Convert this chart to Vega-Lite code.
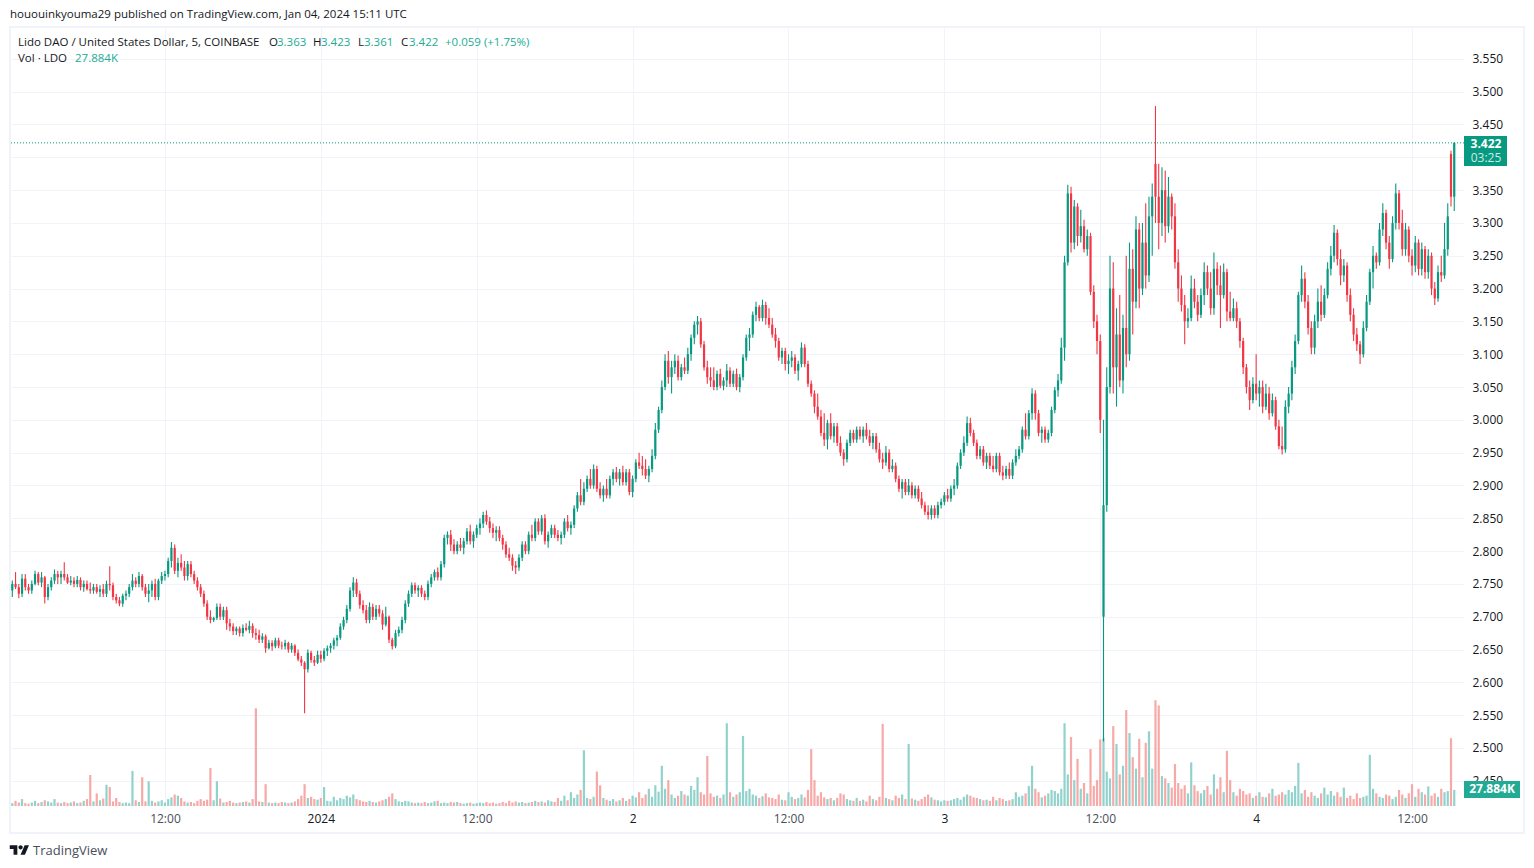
{
"$schema":"https://vega.github.io/schema/vega-lite/v6.json",
"width":1453,"height":778,
"autosize":{"type":"none"},
"padding":{"left":11,"top":28,"right":70,"bottom":62},
"background":"#ffffff",
"resolve":{"scale":{"y":"independent"}},
"config":{"view":{"stroke":null},"font":"Open Sans","text":{"font":"Open Sans"}},
"datasets":{"candles":[
{"t":0.25,"o":2.74,"h":2.755,"l":2.73,"c":2.75,"v":5},
{"t":0.5,"o":2.75,"h":2.768,"l":2.742,"c":2.745,"v":9},
{"t":0.75,"o":2.745,"h":2.75,"l":2.728,"c":2.735,"v":6},
{"t":1,"o":2.735,"h":2.765,"l":2.73,"c":2.758,"v":12},
{"t":1.25,"o":2.758,"h":2.765,"l":2.74,"c":2.745,"v":5},
{"t":1.5,"o":2.745,"h":2.75,"l":2.735,"c":2.74,"v":4},
{"t":1.75,"o":2.74,"h":2.755,"l":2.735,"c":2.75,"v":6},
{"t":2,"o":2.75,"h":2.77,"l":2.748,"c":2.765,"v":9},
{"t":2.25,"o":2.765,"h":2.768,"l":2.748,"c":2.752,"v":5},
{"t":2.5,"o":2.752,"h":2.768,"l":2.745,"c":2.76,"v":7},
{"t":2.75,"o":2.76,"h":2.762,"l":2.72,"c":2.73,"v":10},
{"t":3,"o":2.73,"h":2.75,"l":2.725,"c":2.745,"v":8},
{"t":3.25,"o":2.745,"h":2.76,"l":2.74,"c":2.755,"v":6},
{"t":3.5,"o":2.755,"h":2.772,"l":2.75,"c":2.765,"v":12},
{"t":3.75,"o":2.765,"h":2.77,"l":2.75,"c":2.76,"v":6},
{"t":4,"o":2.76,"h":2.77,"l":2.75,"c":2.765,"v":5},
{"t":4.25,"o":2.765,"h":2.783,"l":2.755,"c":2.76,"v":7},
{"t":4.5,"o":2.76,"h":2.765,"l":2.75,"c":2.752,"v":5},
{"t":4.75,"o":2.752,"h":2.762,"l":2.748,"c":2.755,"v":6},
{"t":5,"o":2.755,"h":2.76,"l":2.745,"c":2.75,"v":8},
{"t":5.25,"o":2.75,"h":2.762,"l":2.745,"c":2.756,"v":5},
{"t":5.5,"o":2.756,"h":2.76,"l":2.74,"c":2.745,"v":6},
{"t":5.75,"o":2.745,"h":2.755,"l":2.738,"c":2.75,"v":9},
{"t":6,"o":2.75,"h":2.755,"l":2.74,"c":2.742,"v":12},
{"t":6.25,"o":2.742,"h":2.752,"l":2.735,"c":2.74,"v":54},
{"t":6.5,"o":2.74,"h":2.75,"l":2.735,"c":2.745,"v":8},
{"t":6.75,"o":2.745,"h":2.75,"l":2.735,"c":2.738,"v":22},
{"t":7,"o":2.738,"h":2.748,"l":2.73,"c":2.742,"v":10},
{"t":7.25,"o":2.742,"h":2.75,"l":2.73,"c":2.735,"v":13},
{"t":7.5,"o":2.735,"h":2.755,"l":2.73,"c":2.75,"v":37},
{"t":7.75,"o":2.75,"h":2.777,"l":2.74,"c":2.748,"v":33},
{"t":8,"o":2.748,"h":2.752,"l":2.725,"c":2.73,"v":8},
{"t":8.25,"o":2.73,"h":2.735,"l":2.72,"c":2.725,"v":14},
{"t":8.5,"o":2.725,"h":2.73,"l":2.716,"c":2.72,"v":7},
{"t":8.75,"o":2.72,"h":2.735,"l":2.715,"c":2.732,"v":5},
{"t":9,"o":2.732,"h":2.74,"l":2.725,"c":2.735,"v":6},
{"t":9.25,"o":2.735,"h":2.75,"l":2.73,"c":2.745,"v":5},
{"t":9.5,"o":2.745,"h":2.765,"l":2.74,"c":2.755,"v":61},
{"t":9.75,"o":2.755,"h":2.76,"l":2.745,"c":2.75,"v":10},
{"t":10,"o":2.75,"h":2.768,"l":2.745,"c":2.762,"v":7},
{"t":10.25,"o":2.762,"h":2.765,"l":2.74,"c":2.745,"v":50},
{"t":10.5,"o":2.745,"h":2.75,"l":2.73,"c":2.735,"v":8},
{"t":10.75,"o":2.735,"h":2.75,"l":2.722,"c":2.74,"v":43},
{"t":11,"o":2.74,"h":2.755,"l":2.73,"c":2.75,"v":9},
{"t":11.25,"o":2.75,"h":2.758,"l":2.725,"c":2.73,"v":6},
{"t":11.5,"o":2.73,"h":2.758,"l":2.725,"c":2.755,"v":8},
{"t":11.75,"o":2.755,"h":2.768,"l":2.75,"c":2.762,"v":10},
{"t":12,"o":2.762,"h":2.77,"l":2.755,"c":2.765,"v":6},
{"t":12.25,"o":2.765,"h":2.79,"l":2.76,"c":2.785,"v":12},
{"t":12.5,"o":2.785,"h":2.814,"l":2.775,"c":2.805,"v":15},
{"t":12.75,"o":2.805,"h":2.81,"l":2.765,"c":2.77,"v":20},
{"t":13,"o":2.77,"h":2.79,"l":2.76,"c":2.782,"v":18},
{"t":13.25,"o":2.782,"h":2.795,"l":2.77,"c":2.775,"v":14},
{"t":13.5,"o":2.775,"h":2.785,"l":2.755,"c":2.762,"v":8},
{"t":13.75,"o":2.762,"h":2.785,"l":2.755,"c":2.78,"v":6},
{"t":14,"o":2.78,"h":2.785,"l":2.76,"c":2.765,"v":7},
{"t":14.25,"o":2.765,"h":2.77,"l":2.75,"c":2.755,"v":5},
{"t":14.5,"o":2.755,"h":2.76,"l":2.74,"c":2.745,"v":9},
{"t":14.75,"o":2.745,"h":2.75,"l":2.73,"c":2.735,"v":12},
{"t":15,"o":2.735,"h":2.74,"l":2.715,"c":2.72,"v":9},
{"t":15.25,"o":2.72,"h":2.725,"l":2.695,"c":2.7,"v":11},
{"t":15.5,"o":2.7,"h":2.71,"l":2.69,"c":2.695,"v":66},
{"t":15.75,"o":2.695,"h":2.7,"l":2.692,"c":2.698,"v":10},
{"t":16,"o":2.698,"h":2.72,"l":2.695,"c":2.715,"v":43},
{"t":16.25,"o":2.715,"h":2.72,"l":2.695,"c":2.7,"v":13},
{"t":16.5,"o":2.7,"h":2.715,"l":2.695,"c":2.71,"v":6},
{"t":16.75,"o":2.71,"h":2.715,"l":2.68,"c":2.69,"v":7},
{"t":17,"o":2.69,"h":2.697,"l":2.678,"c":2.685,"v":9},
{"t":17.25,"o":2.685,"h":2.69,"l":2.672,"c":2.678,"v":6},
{"t":17.5,"o":2.678,"h":2.685,"l":2.672,"c":2.682,"v":5},
{"t":17.75,"o":2.682,"h":2.685,"l":2.67,"c":2.675,"v":6},
{"t":18,"o":2.675,"h":2.688,"l":2.67,"c":2.683,"v":7},
{"t":18.25,"o":2.683,"h":2.69,"l":2.678,"c":2.68,"v":8},
{"t":18.5,"o":2.68,"h":2.694,"l":2.675,"c":2.686,"v":6},
{"t":18.75,"o":2.686,"h":2.69,"l":2.668,"c":2.675,"v":12},
{"t":19,"o":2.675,"h":2.682,"l":2.665,"c":2.672,"v":170},
{"t":19.25,"o":2.672,"h":2.68,"l":2.66,"c":2.665,"v":8},
{"t":19.5,"o":2.665,"h":2.675,"l":2.66,"c":2.67,"v":7},
{"t":19.75,"o":2.67,"h":2.673,"l":2.645,"c":2.652,"v":38},
{"t":20,"o":2.652,"h":2.665,"l":2.65,"c":2.66,"v":6},
{"t":20.25,"o":2.66,"h":2.664,"l":2.648,"c":2.655,"v":5},
{"t":20.5,"o":2.655,"h":2.668,"l":2.652,"c":2.664,"v":6},
{"t":20.75,"o":2.664,"h":2.668,"l":2.652,"c":2.656,"v":5},
{"t":21,"o":2.656,"h":2.662,"l":2.65,"c":2.655,"v":7},
{"t":21.25,"o":2.655,"h":2.665,"l":2.65,"c":2.66,"v":6},
{"t":21.5,"o":2.66,"h":2.662,"l":2.645,"c":2.65,"v":5},
{"t":21.75,"o":2.65,"h":2.66,"l":2.645,"c":2.656,"v":6},
{"t":22,"o":2.656,"h":2.658,"l":2.64,"c":2.645,"v":8},
{"t":22.25,"o":2.645,"h":2.65,"l":2.632,"c":2.635,"v":12},
{"t":22.5,"o":2.635,"h":2.64,"l":2.625,"c":2.63,"v":18},
{"t":22.75,"o":2.63,"h":2.632,"l":2.553,"c":2.62,"v":38},
{"t":23,"o":2.62,"h":2.65,"l":2.615,"c":2.645,"v":14},
{"t":23.25,"o":2.645,"h":2.648,"l":2.63,"c":2.634,"v":16},
{"t":23.5,"o":2.634,"h":2.64,"l":2.625,"c":2.63,"v":12},
{"t":23.75,"o":2.63,"h":2.648,"l":2.628,"c":2.642,"v":11},
{"t":24,"o":2.642,"h":2.648,"l":2.63,"c":2.636,"v":14},
{"t":24.25,"o":2.636,"h":2.652,"l":2.632,"c":2.648,"v":33},
{"t":24.5,"o":2.648,"h":2.656,"l":2.64,"c":2.652,"v":9},
{"t":24.75,"o":2.652,"h":2.66,"l":2.645,"c":2.656,"v":8},
{"t":25,"o":2.656,"h":2.668,"l":2.65,"c":2.664,"v":16},
{"t":25.25,"o":2.664,"h":2.672,"l":2.655,"c":2.668,"v":10},
{"t":25.5,"o":2.668,"h":2.69,"l":2.665,"c":2.685,"v":14},
{"t":25.75,"o":2.685,"h":2.7,"l":2.68,"c":2.695,"v":12},
{"t":26,"o":2.695,"h":2.718,"l":2.69,"c":2.712,"v":18},
{"t":26.25,"o":2.712,"h":2.745,"l":2.708,"c":2.74,"v":15},
{"t":26.5,"o":2.74,"h":2.76,"l":2.73,"c":2.752,"v":20},
{"t":26.75,"o":2.752,"h":2.758,"l":2.73,"c":2.735,"v":12},
{"t":27,"o":2.735,"h":2.74,"l":2.712,"c":2.718,"v":10},
{"t":27.25,"o":2.718,"h":2.725,"l":2.705,"c":2.71,"v":8},
{"t":27.5,"o":2.71,"h":2.718,"l":2.69,"c":2.695,"v":7},
{"t":27.75,"o":2.695,"h":2.722,"l":2.69,"c":2.715,"v":9},
{"t":28,"o":2.715,"h":2.72,"l":2.695,"c":2.7,"v":7},
{"t":28.25,"o":2.7,"h":2.718,"l":2.695,"c":2.712,"v":6},
{"t":28.5,"o":2.712,"h":2.718,"l":2.7,"c":2.705,"v":8},
{"t":28.75,"o":2.705,"h":2.71,"l":2.68,"c":2.688,"v":10},
{"t":29,"o":2.688,"h":2.715,"l":2.685,"c":2.7,"v":12},
{"t":29.25,"o":2.7,"h":2.702,"l":2.66,"c":2.665,"v":16},
{"t":29.5,"o":2.665,"h":2.668,"l":2.65,"c":2.655,"v":22},
{"t":29.75,"o":2.655,"h":2.68,"l":2.652,"c":2.675,"v":12},
{"t":30,"o":2.675,"h":2.685,"l":2.67,"c":2.68,"v":8},
{"t":30.25,"o":2.68,"h":2.7,"l":2.675,"c":2.695,"v":7},
{"t":30.5,"o":2.695,"h":2.725,"l":2.69,"c":2.72,"v":9},
{"t":30.75,"o":2.72,"h":2.74,"l":2.715,"c":2.735,"v":8},
{"t":31,"o":2.735,"h":2.752,"l":2.73,"c":2.748,"v":6},
{"t":31.25,"o":2.748,"h":2.752,"l":2.735,"c":2.74,"v":5},
{"t":31.5,"o":2.74,"h":2.748,"l":2.73,"c":2.744,"v":6},
{"t":31.75,"o":2.744,"h":2.748,"l":2.73,"c":2.735,"v":5},
{"t":32,"o":2.735,"h":2.74,"l":2.725,"c":2.73,"v":7},
{"t":32.25,"o":2.73,"h":2.755,"l":2.725,"c":2.75,"v":5},
{"t":32.5,"o":2.75,"h":2.765,"l":2.745,"c":2.76,"v":6},
{"t":32.75,"o":2.76,"h":2.772,"l":2.755,"c":2.768,"v":8},
{"t":33,"o":2.768,"h":2.775,"l":2.755,"c":2.76,"v":9},
{"t":33.25,"o":2.76,"h":2.785,"l":2.755,"c":2.78,"v":5},
{"t":33.5,"o":2.78,"h":2.825,"l":2.775,"c":2.82,"v":6},
{"t":33.75,"o":2.82,"h":2.83,"l":2.81,"c":2.825,"v":5},
{"t":34,"o":2.825,"h":2.832,"l":2.8,"c":2.81,"v":7},
{"t":34.25,"o":2.81,"h":2.818,"l":2.795,"c":2.8,"v":6},
{"t":34.5,"o":2.8,"h":2.815,"l":2.795,"c":2.81,"v":7},
{"t":34.75,"o":2.81,"h":2.82,"l":2.8,"c":2.805,"v":5},
{"t":35,"o":2.805,"h":2.82,"l":2.795,"c":2.815,"v":4},
{"t":35.25,"o":2.815,"h":2.835,"l":2.81,"c":2.83,"v":5},
{"t":35.5,"o":2.83,"h":2.84,"l":2.81,"c":2.815,"v":6},
{"t":35.75,"o":2.815,"h":2.83,"l":2.805,"c":2.825,"v":4},
{"t":36,"o":2.825,"h":2.84,"l":2.82,"c":2.835,"v":5},
{"t":36.25,"o":2.835,"h":2.85,"l":2.825,"c":2.842,"v":6},
{"t":36.5,"o":2.842,"h":2.86,"l":2.835,"c":2.855,"v":5},
{"t":36.75,"o":2.855,"h":2.862,"l":2.84,"c":2.845,"v":7},
{"t":37,"o":2.845,"h":2.852,"l":2.828,"c":2.835,"v":5},
{"t":37.25,"o":2.835,"h":2.842,"l":2.82,"c":2.828,"v":6},
{"t":37.5,"o":2.828,"h":2.838,"l":2.815,"c":2.832,"v":4},
{"t":37.75,"o":2.832,"h":2.838,"l":2.815,"c":2.82,"v":5},
{"t":38,"o":2.82,"h":2.825,"l":2.802,"c":2.81,"v":7},
{"t":38.25,"o":2.81,"h":2.815,"l":2.79,"c":2.795,"v":5},
{"t":38.5,"o":2.795,"h":2.805,"l":2.785,"c":2.79,"v":9},
{"t":38.75,"o":2.79,"h":2.795,"l":2.77,"c":2.778,"v":6},
{"t":39,"o":2.778,"h":2.785,"l":2.765,"c":2.775,"v":8},
{"t":39.25,"o":2.775,"h":2.795,"l":2.77,"c":2.79,"v":6},
{"t":39.5,"o":2.79,"h":2.815,"l":2.785,"c":2.81,"v":7},
{"t":39.75,"o":2.81,"h":2.815,"l":2.795,"c":2.8,"v":5},
{"t":40,"o":2.8,"h":2.83,"l":2.795,"c":2.825,"v":6},
{"t":40.25,"o":2.825,"h":2.84,"l":2.815,"c":2.82,"v":7},
{"t":40.5,"o":2.82,"h":2.85,"l":2.815,"c":2.845,"v":9},
{"t":40.75,"o":2.845,"h":2.85,"l":2.825,"c":2.83,"v":7},
{"t":41,"o":2.83,"h":2.855,"l":2.825,"c":2.85,"v":8},
{"t":41.25,"o":2.85,"h":2.856,"l":2.81,"c":2.815,"v":6},
{"t":41.5,"o":2.815,"h":2.83,"l":2.805,"c":2.825,"v":10},
{"t":41.75,"o":2.825,"h":2.84,"l":2.82,"c":2.835,"v":8},
{"t":42,"o":2.835,"h":2.84,"l":2.82,"c":2.825,"v":7},
{"t":42.25,"o":2.825,"h":2.832,"l":2.815,"c":2.82,"v":14},
{"t":42.5,"o":2.82,"h":2.83,"l":2.81,"c":2.825,"v":9},
{"t":42.75,"o":2.825,"h":2.85,"l":2.82,"c":2.845,"v":18},
{"t":43,"o":2.845,"h":2.855,"l":2.83,"c":2.835,"v":10},
{"t":43.25,"o":2.835,"h":2.845,"l":2.825,"c":2.84,"v":24},
{"t":43.5,"o":2.84,"h":2.87,"l":2.835,"c":2.865,"v":14},
{"t":43.75,"o":2.865,"h":2.89,"l":2.86,"c":2.885,"v":20},
{"t":44,"o":2.885,"h":2.91,"l":2.87,"c":2.875,"v":28},
{"t":44.25,"o":2.875,"h":2.905,"l":2.87,"c":2.895,"v":97},
{"t":44.5,"o":2.895,"h":2.915,"l":2.89,"c":2.91,"v":14},
{"t":44.75,"o":2.91,"h":2.925,"l":2.895,"c":2.9,"v":12},
{"t":45,"o":2.9,"h":2.932,"l":2.895,"c":2.925,"v":16},
{"t":45.25,"o":2.925,"h":2.93,"l":2.89,"c":2.895,"v":60},
{"t":45.5,"o":2.895,"h":2.905,"l":2.88,"c":2.885,"v":36},
{"t":45.75,"o":2.885,"h":2.9,"l":2.875,"c":2.895,"v":14},
{"t":46,"o":2.895,"h":2.91,"l":2.88,"c":2.885,"v":11},
{"t":46.25,"o":2.885,"h":2.915,"l":2.88,"c":2.91,"v":9},
{"t":46.5,"o":2.91,"h":2.925,"l":2.9,"c":2.92,"v":12},
{"t":46.75,"o":2.92,"h":2.928,"l":2.905,"c":2.91,"v":8},
{"t":47,"o":2.91,"h":2.925,"l":2.9,"c":2.92,"v":10},
{"t":47.25,"o":2.92,"h":2.93,"l":2.9,"c":2.905,"v":14},
{"t":47.5,"o":2.905,"h":2.925,"l":2.9,"c":2.92,"v":9},
{"t":47.75,"o":2.92,"h":2.925,"l":2.885,"c":2.89,"v":12},
{"t":48,"o":2.89,"h":2.915,"l":2.882,"c":2.91,"v":18},
{"t":48.25,"o":2.91,"h":2.94,"l":2.905,"c":2.935,"v":15},
{"t":48.5,"o":2.935,"h":2.95,"l":2.925,"c":2.93,"v":24},
{"t":48.75,"o":2.93,"h":2.945,"l":2.915,"c":2.925,"v":14},
{"t":49,"o":2.925,"h":2.94,"l":2.91,"c":2.915,"v":20},
{"t":49.25,"o":2.915,"h":2.93,"l":2.905,"c":2.925,"v":30},
{"t":49.5,"o":2.925,"h":2.955,"l":2.92,"c":2.945,"v":16},
{"t":49.75,"o":2.945,"h":2.995,"l":2.94,"c":2.985,"v":36},
{"t":50,"o":2.985,"h":3.02,"l":2.98,"c":3.015,"v":25},
{"t":50.25,"o":3.015,"h":3.06,"l":3.01,"c":3.05,"v":70},
{"t":50.5,"o":3.05,"h":3.1,"l":3.045,"c":3.09,"v":30},
{"t":50.75,"o":3.09,"h":3.105,"l":3.055,"c":3.065,"v":45},
{"t":51,"o":3.065,"h":3.09,"l":3.04,"c":3.08,"v":20},
{"t":51.25,"o":3.08,"h":3.1,"l":3.07,"c":3.09,"v":14},
{"t":51.5,"o":3.09,"h":3.098,"l":3.06,"c":3.065,"v":18},
{"t":51.75,"o":3.065,"h":3.085,"l":3.06,"c":3.08,"v":26},
{"t":52,"o":3.08,"h":3.095,"l":3.07,"c":3.075,"v":20},
{"t":52.25,"o":3.075,"h":3.11,"l":3.07,"c":3.1,"v":18},
{"t":52.5,"o":3.1,"h":3.13,"l":3.09,"c":3.125,"v":35},
{"t":52.75,"o":3.125,"h":3.15,"l":3.115,"c":3.145,"v":28},
{"t":53,"o":3.145,"h":3.158,"l":3.13,"c":3.15,"v":50},
{"t":53.25,"o":3.15,"h":3.155,"l":3.11,"c":3.115,"v":24},
{"t":53.5,"o":3.115,"h":3.12,"l":3.075,"c":3.08,"v":20},
{"t":53.75,"o":3.08,"h":3.09,"l":3.055,"c":3.065,"v":87},
{"t":54,"o":3.065,"h":3.08,"l":3.05,"c":3.06,"v":22},
{"t":54.25,"o":3.06,"h":3.08,"l":3.045,"c":3.05,"v":16},
{"t":54.5,"o":3.05,"h":3.075,"l":3.045,"c":3.07,"v":18},
{"t":54.75,"o":3.07,"h":3.078,"l":3.048,"c":3.052,"v":14},
{"t":55,"o":3.052,"h":3.065,"l":3.045,"c":3.06,"v":20},
{"t":55.25,"o":3.06,"h":3.085,"l":3.05,"c":3.075,"v":144},
{"t":55.5,"o":3.075,"h":3.08,"l":3.05,"c":3.055,"v":24},
{"t":55.75,"o":3.055,"h":3.075,"l":3.05,"c":3.07,"v":16},
{"t":56,"o":3.07,"h":3.078,"l":3.045,"c":3.05,"v":20},
{"t":56.25,"o":3.05,"h":3.07,"l":3.042,"c":3.065,"v":24},
{"t":56.5,"o":3.065,"h":3.1,"l":3.06,"c":3.095,"v":122},
{"t":56.75,"o":3.095,"h":3.13,"l":3.09,"c":3.125,"v":26},
{"t":57,"o":3.125,"h":3.14,"l":3.105,"c":3.13,"v":30},
{"t":57.25,"o":3.13,"h":3.165,"l":3.125,"c":3.16,"v":20},
{"t":57.5,"o":3.16,"h":3.18,"l":3.15,"c":3.172,"v":18},
{"t":57.75,"o":3.172,"h":3.175,"l":3.15,"c":3.155,"v":14},
{"t":58,"o":3.155,"h":3.183,"l":3.15,"c":3.175,"v":17},
{"t":58.25,"o":3.175,"h":3.18,"l":3.145,"c":3.155,"v":22},
{"t":58.5,"o":3.155,"h":3.17,"l":3.14,"c":3.145,"v":15},
{"t":58.75,"o":3.145,"h":3.155,"l":3.125,"c":3.13,"v":14},
{"t":59,"o":3.13,"h":3.14,"l":3.11,"c":3.12,"v":12},
{"t":59.25,"o":3.12,"h":3.125,"l":3.09,"c":3.095,"v":20},
{"t":59.5,"o":3.095,"h":3.11,"l":3.085,"c":3.105,"v":11},
{"t":59.75,"o":3.105,"h":3.11,"l":3.075,"c":3.085,"v":10},
{"t":60,"o":3.085,"h":3.1,"l":3.07,"c":3.09,"v":24},
{"t":60.25,"o":3.09,"h":3.105,"l":3.08,"c":3.095,"v":16},
{"t":60.5,"o":3.095,"h":3.1,"l":3.07,"c":3.075,"v":12},
{"t":60.75,"o":3.075,"h":3.09,"l":3.06,"c":3.085,"v":14},
{"t":61,"o":3.085,"h":3.118,"l":3.08,"c":3.11,"v":20},
{"t":61.25,"o":3.11,"h":3.115,"l":3.08,"c":3.085,"v":15},
{"t":61.5,"o":3.085,"h":3.09,"l":3.05,"c":3.055,"v":28},
{"t":61.75,"o":3.055,"h":3.06,"l":3.035,"c":3.04,"v":99},
{"t":62,"o":3.04,"h":3.045,"l":3.01,"c":3.02,"v":45},
{"t":62.25,"o":3.02,"h":3.04,"l":3.0,"c":3.005,"v":18},
{"t":62.5,"o":3.005,"h":3.015,"l":2.975,"c":2.98,"v":24},
{"t":62.75,"o":2.98,"h":3.01,"l":2.96,"c":2.97,"v":15},
{"t":63,"o":2.97,"h":3.0,"l":2.955,"c":2.995,"v":12},
{"t":63.25,"o":2.995,"h":3.01,"l":2.97,"c":2.975,"v":14},
{"t":63.5,"o":2.975,"h":2.995,"l":2.965,"c":2.99,"v":10},
{"t":63.75,"o":2.99,"h":2.995,"l":2.96,"c":2.965,"v":14},
{"t":64,"o":2.965,"h":2.975,"l":2.945,"c":2.95,"v":22},
{"t":64.25,"o":2.95,"h":2.955,"l":2.93,"c":2.94,"v":20},
{"t":64.5,"o":2.94,"h":2.97,"l":2.935,"c":2.965,"v":12},
{"t":64.75,"o":2.965,"h":2.985,"l":2.96,"c":2.98,"v":10},
{"t":65,"o":2.98,"h":2.985,"l":2.965,"c":2.97,"v":9},
{"t":65.25,"o":2.97,"h":2.99,"l":2.965,"c":2.985,"v":14},
{"t":65.5,"o":2.985,"h":2.99,"l":2.97,"c":2.975,"v":9},
{"t":65.75,"o":2.975,"h":2.99,"l":2.965,"c":2.985,"v":11},
{"t":66,"o":2.985,"h":2.995,"l":2.97,"c":2.975,"v":8},
{"t":66.25,"o":2.975,"h":2.985,"l":2.96,"c":2.965,"v":18},
{"t":66.5,"o":2.965,"h":2.98,"l":2.955,"c":2.975,"v":12},
{"t":66.75,"o":2.975,"h":2.98,"l":2.95,"c":2.955,"v":10},
{"t":67,"o":2.955,"h":2.965,"l":2.935,"c":2.94,"v":16},
{"t":67.25,"o":2.94,"h":2.95,"l":2.925,"c":2.935,"v":143},
{"t":67.5,"o":2.935,"h":2.96,"l":2.93,"c":2.95,"v":14},
{"t":67.75,"o":2.95,"h":2.955,"l":2.92,"c":2.925,"v":12},
{"t":68,"o":2.925,"h":2.94,"l":2.92,"c":2.93,"v":10},
{"t":68.25,"o":2.93,"h":2.935,"l":2.905,"c":2.91,"v":18},
{"t":68.5,"o":2.91,"h":2.915,"l":2.89,"c":2.895,"v":14},
{"t":68.75,"o":2.895,"h":2.91,"l":2.88,"c":2.905,"v":20},
{"t":69,"o":2.905,"h":2.91,"l":2.885,"c":2.89,"v":12},
{"t":69.25,"o":2.89,"h":2.91,"l":2.885,"c":2.9,"v":108},
{"t":69.5,"o":2.9,"h":2.905,"l":2.88,"c":2.885,"v":13},
{"t":69.75,"o":2.885,"h":2.9,"l":2.88,"c":2.895,"v":11},
{"t":70,"o":2.895,"h":2.9,"l":2.875,"c":2.88,"v":9},
{"t":70.25,"o":2.88,"h":2.89,"l":2.865,"c":2.87,"v":12},
{"t":70.5,"o":2.87,"h":2.875,"l":2.855,"c":2.86,"v":16},
{"t":70.75,"o":2.86,"h":2.87,"l":2.848,"c":2.855,"v":20},
{"t":71,"o":2.855,"h":2.87,"l":2.848,"c":2.865,"v":15},
{"t":71.25,"o":2.865,"h":2.87,"l":2.85,"c":2.855,"v":11},
{"t":71.5,"o":2.855,"h":2.875,"l":2.85,"c":2.87,"v":10},
{"t":71.75,"o":2.87,"h":2.88,"l":2.865,"c":2.875,"v":8},
{"t":72,"o":2.875,"h":2.89,"l":2.87,"c":2.885,"v":10},
{"t":72.25,"o":2.885,"h":2.895,"l":2.875,"c":2.88,"v":9},
{"t":72.5,"o":2.88,"h":2.9,"l":2.875,"c":2.895,"v":10},
{"t":72.75,"o":2.895,"h":2.91,"l":2.885,"c":2.9,"v":12},
{"t":73,"o":2.9,"h":2.935,"l":2.895,"c":2.93,"v":14},
{"t":73.25,"o":2.93,"h":2.955,"l":2.925,"c":2.95,"v":11},
{"t":73.5,"o":2.95,"h":2.975,"l":2.945,"c":2.965,"v":16},
{"t":73.75,"o":2.965,"h":3.005,"l":2.96,"c":2.995,"v":20},
{"t":74,"o":2.995,"h":3.003,"l":2.975,"c":2.98,"v":18},
{"t":74.25,"o":2.98,"h":2.985,"l":2.96,"c":2.965,"v":15},
{"t":74.5,"o":2.965,"h":2.97,"l":2.94,"c":2.945,"v":14},
{"t":74.75,"o":2.945,"h":2.96,"l":2.94,"c":2.955,"v":12},
{"t":75,"o":2.955,"h":2.96,"l":2.93,"c":2.935,"v":10},
{"t":75.25,"o":2.935,"h":2.95,"l":2.925,"c":2.945,"v":11},
{"t":75.5,"o":2.945,"h":2.95,"l":2.925,"c":2.93,"v":9},
{"t":75.75,"o":2.93,"h":2.945,"l":2.92,"c":2.925,"v":16},
{"t":76,"o":2.925,"h":2.95,"l":2.92,"c":2.945,"v":10},
{"t":76.25,"o":2.945,"h":2.95,"l":2.915,"c":2.92,"v":14},
{"t":76.5,"o":2.92,"h":2.93,"l":2.908,"c":2.915,"v":12},
{"t":76.75,"o":2.915,"h":2.93,"l":2.91,"c":2.925,"v":9},
{"t":77,"o":2.925,"h":2.935,"l":2.91,"c":2.915,"v":10},
{"t":77.25,"o":2.915,"h":2.94,"l":2.91,"c":2.935,"v":12},
{"t":77.5,"o":2.935,"h":2.955,"l":2.93,"c":2.945,"v":24},
{"t":77.75,"o":2.945,"h":2.96,"l":2.94,"c":2.955,"v":16},
{"t":78,"o":2.955,"h":2.99,"l":2.95,"c":2.985,"v":18},
{"t":78.25,"o":2.985,"h":3.01,"l":2.97,"c":2.975,"v":22},
{"t":78.5,"o":2.975,"h":3.015,"l":2.97,"c":3.01,"v":35},
{"t":78.75,"o":3.01,"h":3.048,"l":3.0,"c":3.04,"v":70},
{"t":79,"o":3.04,"h":3.045,"l":3.0,"c":3.01,"v":30},
{"t":79.25,"o":3.01,"h":3.015,"l":2.975,"c":2.98,"v":24},
{"t":79.5,"o":2.98,"h":2.99,"l":2.965,"c":2.985,"v":15},
{"t":79.75,"o":2.985,"h":2.99,"l":2.965,"c":2.97,"v":18},
{"t":80,"o":2.97,"h":2.985,"l":2.965,"c":2.98,"v":22},
{"t":80.25,"o":2.98,"h":3.02,"l":2.975,"c":3.015,"v":28},
{"t":80.5,"o":3.015,"h":3.05,"l":3.01,"c":3.045,"v":26},
{"t":80.75,"o":3.045,"h":3.07,"l":3.035,"c":3.06,"v":22},
{"t":81,"o":3.06,"h":3.125,"l":3.055,"c":3.11,"v":30},
{"t":81.25,"o":3.11,"h":3.25,"l":3.09,"c":3.24,"v":144},
{"t":81.5,"o":3.24,"h":3.358,"l":3.235,"c":3.345,"v":55},
{"t":81.75,"o":3.345,"h":3.355,"l":3.255,"c":3.27,"v":120},
{"t":82,"o":3.27,"h":3.335,"l":3.26,"c":3.325,"v":45},
{"t":82.25,"o":3.325,"h":3.33,"l":3.265,"c":3.28,"v":82},
{"t":82.5,"o":3.28,"h":3.32,"l":3.27,"c":3.295,"v":30},
{"t":82.75,"o":3.295,"h":3.305,"l":3.255,"c":3.26,"v":40},
{"t":83,"o":3.26,"h":3.29,"l":3.25,"c":3.28,"v":22},
{"t":83.25,"o":3.28,"h":3.285,"l":3.19,"c":3.195,"v":99},
{"t":83.5,"o":3.195,"h":3.205,"l":3.14,"c":3.15,"v":35},
{"t":83.75,"o":3.15,"h":3.16,"l":3.1,"c":3.12,"v":45},
{"t":84,"o":3.12,"h":3.13,"l":2.98,"c":3.0,"v":116},
{"t":84.25,"o":2.7,"h":3.0,"l":2.51,"c":2.87,"v":118},
{"t":84.5,"o":2.87,"h":3.08,"l":2.86,"c":3.05,"v":60},
{"t":84.75,"o":3.05,"h":3.25,"l":3.04,"c":3.2,"v":48},
{"t":85,"o":3.2,"h":3.24,"l":3.04,"c":3.08,"v":139},
{"t":85.25,"o":3.08,"h":3.17,"l":3.02,"c":3.13,"v":108},
{"t":85.5,"o":3.13,"h":3.19,"l":3.05,"c":3.06,"v":55},
{"t":85.75,"o":3.06,"h":3.16,"l":3.04,"c":3.14,"v":70},
{"t":86,"o":3.14,"h":3.25,"l":3.08,"c":3.1,"v":167},
{"t":86.25,"o":3.1,"h":3.27,"l":3.09,"c":3.23,"v":127},
{"t":86.5,"o":3.23,"h":3.26,"l":3.13,"c":3.18,"v":85},
{"t":86.75,"o":3.18,"h":3.31,"l":3.17,"c":3.29,"v":65},
{"t":87,"o":3.29,"h":3.3,"l":3.17,"c":3.2,"v":117},
{"t":87.25,"o":3.2,"h":3.3,"l":3.19,"c":3.27,"v":50},
{"t":87.5,"o":3.27,"h":3.33,"l":3.2,"c":3.22,"v":110},
{"t":87.75,"o":3.22,"h":3.34,"l":3.21,"c":3.31,"v":130},
{"t":88,"o":3.31,"h":3.36,"l":3.25,"c":3.34,"v":65},
{"t":88.25,"o":3.39,"h":3.478,"l":3.3,"c":3.34,"v":184},
{"t":88.5,"o":3.34,"h":3.39,"l":3.26,"c":3.3,"v":175},
{"t":88.75,"o":3.3,"h":3.385,"l":3.28,"c":3.35,"v":52},
{"t":89,"o":3.35,"h":3.38,"l":3.27,"c":3.295,"v":48},
{"t":89.25,"o":3.295,"h":3.37,"l":3.285,"c":3.34,"v":40},
{"t":89.5,"o":3.34,"h":3.345,"l":3.29,"c":3.31,"v":32},
{"t":89.75,"o":3.31,"h":3.33,"l":3.23,"c":3.24,"v":73},
{"t":90,"o":3.24,"h":3.26,"l":3.18,"c":3.2,"v":40},
{"t":90.25,"o":3.2,"h":3.22,"l":3.165,"c":3.175,"v":30},
{"t":90.5,"o":3.175,"h":3.19,"l":3.115,"c":3.15,"v":36},
{"t":90.75,"o":3.15,"h":3.17,"l":3.14,"c":3.155,"v":22},
{"t":91,"o":3.155,"h":3.22,"l":3.15,"c":3.2,"v":76},
{"t":91.25,"o":3.2,"h":3.215,"l":3.17,"c":3.18,"v":36},
{"t":91.5,"o":3.18,"h":3.19,"l":3.15,"c":3.16,"v":26},
{"t":91.75,"o":3.16,"h":3.2,"l":3.155,"c":3.19,"v":22},
{"t":92,"o":3.19,"h":3.24,"l":3.175,"c":3.225,"v":28},
{"t":92.25,"o":3.225,"h":3.235,"l":3.19,"c":3.2,"v":35},
{"t":92.5,"o":3.2,"h":3.225,"l":3.16,"c":3.17,"v":20},
{"t":92.75,"o":3.17,"h":3.255,"l":3.16,"c":3.23,"v":55},
{"t":93,"o":3.23,"h":3.24,"l":3.19,"c":3.205,"v":30},
{"t":93.25,"o":3.205,"h":3.235,"l":3.14,"c":3.19,"v":50},
{"t":93.5,"o":3.19,"h":3.238,"l":3.185,"c":3.225,"v":24},
{"t":93.75,"o":3.225,"h":3.23,"l":3.15,"c":3.165,"v":96},
{"t":94,"o":3.165,"h":3.195,"l":3.15,"c":3.155,"v":45},
{"t":94.25,"o":3.155,"h":3.185,"l":3.15,"c":3.17,"v":24},
{"t":94.5,"o":3.17,"h":3.18,"l":3.14,"c":3.15,"v":18},
{"t":94.75,"o":3.15,"h":3.155,"l":3.11,"c":3.12,"v":30},
{"t":95,"o":3.12,"h":3.125,"l":3.07,"c":3.08,"v":26},
{"t":95.25,"o":3.08,"h":3.085,"l":3.04,"c":3.05,"v":20},
{"t":95.5,"o":3.05,"h":3.06,"l":3.015,"c":3.03,"v":22},
{"t":95.75,"o":3.03,"h":3.065,"l":3.025,"c":3.055,"v":14},
{"t":96,"o":3.055,"h":3.1,"l":3.03,"c":3.04,"v":18},
{"t":96.25,"o":3.04,"h":3.06,"l":3.02,"c":3.05,"v":24},
{"t":96.5,"o":3.05,"h":3.06,"l":3.01,"c":3.02,"v":16},
{"t":96.75,"o":3.02,"h":3.055,"l":3.015,"c":3.04,"v":15},
{"t":97,"o":3.04,"h":3.05,"l":3.0,"c":3.01,"v":22},
{"t":97.25,"o":3.01,"h":3.04,"l":3.005,"c":3.03,"v":30},
{"t":97.5,"o":3.03,"h":3.035,"l":2.985,"c":2.99,"v":18},
{"t":97.75,"o":2.99,"h":3.0,"l":2.955,"c":2.96,"v":20},
{"t":98,"o":2.96,"h":2.99,"l":2.947,"c":2.955,"v":24},
{"t":98.25,"o":2.955,"h":3.03,"l":2.95,"c":3.02,"v":20},
{"t":98.5,"o":3.02,"h":3.05,"l":3.01,"c":3.04,"v":28},
{"t":98.75,"o":3.04,"h":3.09,"l":3.03,"c":3.08,"v":24},
{"t":99,"o":3.08,"h":3.13,"l":3.07,"c":3.12,"v":35},
{"t":99.25,"o":3.12,"h":3.195,"l":3.115,"c":3.19,"v":75},
{"t":99.5,"o":3.19,"h":3.235,"l":3.18,"c":3.215,"v":22},
{"t":99.75,"o":3.215,"h":3.225,"l":3.17,"c":3.18,"v":28},
{"t":100,"o":3.18,"h":3.19,"l":3.13,"c":3.14,"v":16},
{"t":100.25,"o":3.14,"h":3.15,"l":3.1,"c":3.11,"v":24},
{"t":100.5,"o":3.11,"h":3.16,"l":3.1,"c":3.15,"v":18},
{"t":100.75,"o":3.15,"h":3.2,"l":3.14,"c":3.18,"v":14},
{"t":101,"o":3.18,"h":3.205,"l":3.15,"c":3.16,"v":22},
{"t":101.25,"o":3.16,"h":3.2,"l":3.155,"c":3.19,"v":32},
{"t":101.5,"o":3.19,"h":3.24,"l":3.185,"c":3.23,"v":20},
{"t":101.75,"o":3.23,"h":3.265,"l":3.22,"c":3.25,"v":26},
{"t":102,"o":3.25,"h":3.297,"l":3.24,"c":3.285,"v":18},
{"t":102.25,"o":3.285,"h":3.29,"l":3.235,"c":3.245,"v":24},
{"t":102.5,"o":3.245,"h":3.26,"l":3.205,"c":3.22,"v":16},
{"t":102.75,"o":3.22,"h":3.245,"l":3.21,"c":3.235,"v":32},
{"t":103,"o":3.235,"h":3.24,"l":3.18,"c":3.19,"v":14},
{"t":103.25,"o":3.19,"h":3.2,"l":3.15,"c":3.16,"v":18},
{"t":103.5,"o":3.16,"h":3.17,"l":3.12,"c":3.13,"v":12},
{"t":103.75,"o":3.13,"h":3.14,"l":3.105,"c":3.115,"v":22},
{"t":104,"o":3.115,"h":3.12,"l":3.085,"c":3.1,"v":14},
{"t":104.25,"o":3.1,"h":3.15,"l":3.095,"c":3.14,"v":16},
{"t":104.5,"o":3.14,"h":3.19,"l":3.135,"c":3.18,"v":18},
{"t":104.75,"o":3.18,"h":3.23,"l":3.175,"c":3.225,"v":89},
{"t":105,"o":3.225,"h":3.265,"l":3.2,"c":3.25,"v":30},
{"t":105.25,"o":3.25,"h":3.255,"l":3.23,"c":3.24,"v":22},
{"t":105.5,"o":3.24,"h":3.3,"l":3.235,"c":3.29,"v":16},
{"t":105.75,"o":3.29,"h":3.33,"l":3.28,"c":3.315,"v":14},
{"t":106,"o":3.315,"h":3.32,"l":3.26,"c":3.27,"v":20},
{"t":106.25,"o":3.27,"h":3.28,"l":3.23,"c":3.245,"v":18},
{"t":106.5,"o":3.245,"h":3.31,"l":3.24,"c":3.3,"v":12},
{"t":106.75,"o":3.3,"h":3.36,"l":3.29,"c":3.345,"v":16},
{"t":107,"o":3.345,"h":3.35,"l":3.29,"c":3.3,"v":28},
{"t":107.25,"o":3.3,"h":3.32,"l":3.25,"c":3.26,"v":20},
{"t":107.5,"o":3.26,"h":3.3,"l":3.25,"c":3.29,"v":14},
{"t":107.75,"o":3.29,"h":3.295,"l":3.24,"c":3.25,"v":22},
{"t":108,"o":3.25,"h":3.26,"l":3.22,"c":3.235,"v":38},
{"t":108.25,"o":3.235,"h":3.28,"l":3.225,"c":3.27,"v":16},
{"t":108.5,"o":3.27,"h":3.275,"l":3.22,"c":3.23,"v":30},
{"t":108.75,"o":3.23,"h":3.27,"l":3.22,"c":3.26,"v":24},
{"t":109,"o":3.26,"h":3.265,"l":3.215,"c":3.225,"v":20},
{"t":109.25,"o":3.225,"h":3.26,"l":3.215,"c":3.25,"v":34},
{"t":109.5,"o":3.25,"h":3.255,"l":3.19,"c":3.2,"v":18},
{"t":109.75,"o":3.2,"h":3.21,"l":3.175,"c":3.185,"v":22},
{"t":110,"o":3.185,"h":3.235,"l":3.18,"c":3.225,"v":16},
{"t":110.25,"o":3.225,"h":3.25,"l":3.21,"c":3.22,"v":30},
{"t":110.5,"o":3.22,"h":3.3,"l":3.215,"c":3.26,"v":24},
{"t":110.75,"o":3.26,"h":3.33,"l":3.25,"c":3.31,"v":26},
{"t":111,"o":3.405,"h":3.41,"l":3.325,"c":3.34,"v":118},
{"t":111.25,"o":3.34,"h":3.423,"l":3.318,"c":3.422,"v":28}
]},
"layer":[
{"data":{"values":[{"frame":"chart"}]},"mark":{"type":"rect","fill":null,"stroke":"#f0f3fa","strokeWidth":2},
 "encoding":{"x":{"value":-1},"x2":{"value":1513},"y":{"value":-1},"y2":{"value":805}}},
{"data":{"name":"candles"},"mark":{"type":"rule","strokeWidth":2.2},
 "encoding":{
  "x":{"field":"t","type":"quantitative","title":null,"scale":{"domain":[0.15,112],"nice":false,"zero":false},
   "axis":{"values":[12,24,36,48,60,72,84,96,108],"domain":false,"ticks":false,"gridColor":"#f0f3fa","grid":true,"labelFontSize":12,"labelPadding":7,"labelFont":"Open Sans",
    "labelColor":{"condition":{"test":"datum.value%24==0","value":"#131722"},"value":"#4a4e59"},
    "labelExpr":"datum.value%24==12?'12:00':datum.value==24?'2024':''+datum.value/24"}},
  "y":{"field":"v","type":"quantitative","scale":{"domain":[0,1354],"nice":false},"axis":null},
  "y2":{"datum":0},
  "color":{"condition":{"test":"datum.c>=datum.o","value":"#92d2cc"},"value":"#f7a9a7"}}},
{"data":{"values":[{"price":3.422}]},"mark":{"type":"rule","stroke":"#089981","strokeWidth":1,"strokeDash":[1,2]},
 "encoding":{"y":{"field":"price","type":"quantitative","scale":{"domain":[2.4116,3.597],"nice":false,"zero":false},"axis":null}}},
{"data":{"name":"candles"},"mark":{"type":"rule","strokeWidth":1.1},
 "encoding":{
  "x":{"field":"t","type":"quantitative","title":null},
  "y":{"field":"l","type":"quantitative","scale":{"domain":[2.4116,3.597],"nice":false,"zero":false},
   "axis":{"orient":"right","values":[2.45,2.5,2.55,2.6,2.65,2.7,2.75,2.8,2.85,2.9,2.95,3,3.05,3.1,3.15,3.2,3.25,3.3,3.35,3.4,3.45,3.5,3.55],"labelExpr":"datum.value==3.4?'':format(datum.value,'.3f')","title":null,"domain":false,"ticks":false,"grid":true,"gridColor":"#f0f3fa","labelFontSize":12,"labelPadding":8,"labelColor":"#131722","labelFont":"Open Sans","labelOverlap":false,"labelBound":false,"labelFlush":false}},
  "y2":{"field":"h"},
  "color":{"condition":{"test":"datum.c>=datum.o","value":"#089981"},"value":"#f23645"}}},
{"data":{"name":"candles"},"mark":{"type":"rule","strokeWidth":2.2},
 "encoding":{
  "x":{"field":"t","type":"quantitative","title":null},
  "y":{"field":"o","type":"quantitative","scale":{"domain":[2.4116,3.597],"nice":false,"zero":false},"axis":null},
  "y2":{"field":"c"},
  "color":{"condition":{"test":"datum.c>=datum.o","value":"#089981"},"value":"#f23645"}}},
{"data":{"values":[{"tag":"price"}]},"mark":{"type":"rect","fill":"#089981"},
 "encoding":{"x":{"value":1453},"x2":{"value":1496},"y":{"value":108},"y2":{"value":138}}},
{"data":{"values":[{"tag":"volume"}]},"mark":{"type":"rect","fill":"#22ab94"},
 "encoding":{"x":{"value":1453},"x2":{"value":1509},"y":{"value":753},"y2":{"value":770}}},
{"data":{"values":[{"label":"3.422"}]},"mark":{"type":"text","x":1475,"y":116,"fontSize":12,"fontWeight":"bold","fill":"#ffffff","font":"Open Sans"},"encoding":{"text":{"field":"label"}}},
{"data":{"values":[{"label":"03:25"}]},"mark":{"type":"text","x":1475,"y":130,"fontSize":12,"fill":"#cdebe6","font":"Open Sans"},"encoding":{"text":{"field":"label"}}},
{"data":{"values":[{"label":"27.884K"}]},"mark":{"type":"text","x":1481,"y":761,"fontSize":12,"fontWeight":"bold","fill":"#ffffff","font":"Open Sans"},"encoding":{"text":{"field":"label"}}},
{"data":{"values":[{"label":"hououinkyouma29 published on TradingView.com, Jan 04, 2024 15:11 UTC"}]},"mark":{"type":"text","x":-1,"y":-13,"align":"left","fontSize":11.5,"fill":"#131722","font":"Open Sans"},"encoding":{"text":{"field":"label"}}},
{"data":{"values":[{"label":"Lido DAO / United States Dollar, 5, COINBASE"}]},"mark":{"type":"text","x":7,"y":15,"align":"left","fontSize":11.5,"fill":"#131722","font":"Open Sans"},"encoding":{"text":{"field":"label"}}},
{"data":{"values":[{"label":"O"}]},"mark":{"type":"text","x":258,"y":15,"align":"left","fontSize":11.5,"fill":"#131722","font":"Open Sans"},"encoding":{"text":{"field":"label"}}},
{"data":{"values":[{"label":"3.363"}]},"mark":{"type":"text","x":266,"y":15,"align":"left","fontSize":11.5,"fill":"#22ab94","font":"Open Sans"},"encoding":{"text":{"field":"label"}}},
{"data":{"values":[{"label":"H"}]},"mark":{"type":"text","x":302,"y":15,"align":"left","fontSize":11.5,"fill":"#131722","font":"Open Sans"},"encoding":{"text":{"field":"label"}}},
{"data":{"values":[{"label":"3.423"}]},"mark":{"type":"text","x":310,"y":15,"align":"left","fontSize":11.5,"fill":"#22ab94","font":"Open Sans"},"encoding":{"text":{"field":"label"}}},
{"data":{"values":[{"label":"L"}]},"mark":{"type":"text","x":347,"y":15,"align":"left","fontSize":11.5,"fill":"#131722","font":"Open Sans"},"encoding":{"text":{"field":"label"}}},
{"data":{"values":[{"label":"3.361"}]},"mark":{"type":"text","x":353,"y":15,"align":"left","fontSize":11.5,"fill":"#22ab94","font":"Open Sans"},"encoding":{"text":{"field":"label"}}},
{"data":{"values":[{"label":"C"}]},"mark":{"type":"text","x":390,"y":15,"align":"left","fontSize":11.5,"fill":"#131722","font":"Open Sans"},"encoding":{"text":{"field":"label"}}},
{"data":{"values":[{"label":"3.422"}]},"mark":{"type":"text","x":398,"y":15,"align":"left","fontSize":11.5,"fill":"#22ab94","font":"Open Sans"},"encoding":{"text":{"field":"label"}}},
{"data":{"values":[{"label":"+0.059 (+1.75%)"}]},"mark":{"type":"text","x":434,"y":15,"align":"left","fontSize":11.5,"fill":"#22ab94","font":"Open Sans"},"encoding":{"text":{"field":"label"}}},
{"data":{"values":[{"label":"Vol · LDO"}]},"mark":{"type":"text","x":7,"y":31,"align":"left","fontSize":11.5,"fill":"#131722","font":"Open Sans"},"encoding":{"text":{"field":"label"}}},
{"data":{"values":[{"label":"27.884K"}]},"mark":{"type":"text","x":64,"y":31,"align":"left","fontSize":11.5,"fill":"#22ab94","font":"Open Sans"},"encoding":{"text":{"field":"label"}}},
{"data":{"values":[{"label":"TradingView"}]},"mark":{"type":"text","x":22,"y":823,"align":"left","fontSize":13,"fill":"#4a4e59","font":"Open Sans"},"encoding":{"text":{"field":"label"}}},
{"data":{"values":[{"logo":"TradingView"}]},"mark":{"type":"point","x":8.5,"y":822,"filled":true,"opacity":1,"fill":"#131722","size":380,"shape":"M-.22 .5H-.61V-.11H-1V-.5H-.22ZM.556 .5H.111L.528 -.5H.972ZM-.111 -.278a.222 .222 0 1 0 .444 0a.222 .222 0 1 0 -.444 0Z"}}
]
}
